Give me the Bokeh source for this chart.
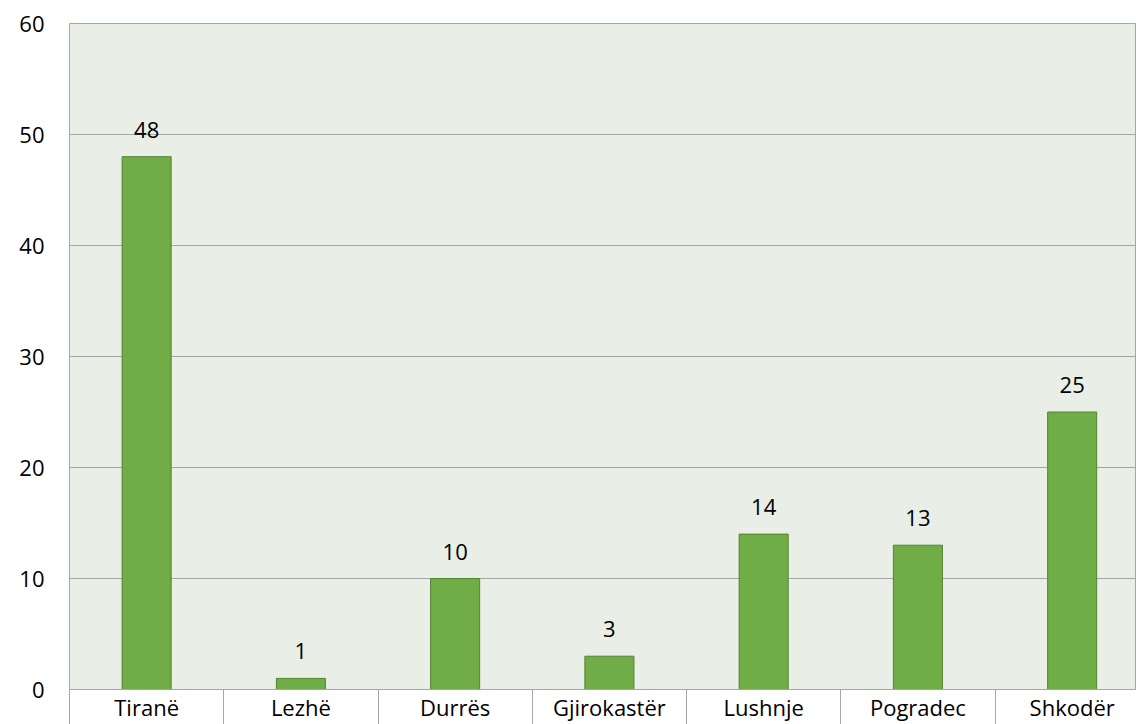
from bokeh.plotting import figure
from bokeh.models import ColumnDataSource, FixedTicker, LabelSet, Range1d
from bokeh.core.properties import value
from bokeh.embed import file_html
from bokeh.resources import INLINE

categories = ["Tiranë", "Lezhë", "Durrës", "Gjirokastër", "Lushnje", "Pogradec", "Shkodër"]
values = [48, 1, 10, 3, 14, 13, 25]
y_ticks = [0, 10, 20, 30, 40, 50, 60]

centers = [i + 0.5 for i in range(len(categories))]
bounds = list(range(len(categories) + 1))

src = ColumnDataSource(dict(x=centers, top=values, label=[str(v) for v in values], cat=categories))

FONT = "Open Sans"
FS = "22px"

p = figure(width=1136, height=724, output_backend="svg", toolbar_location=None,
           x_range=Range1d(0, 6.917), y_range=Range1d(0, 60),
           min_border_left=69, min_border_right=0, min_border_top=23, min_border_bottom=35)

p.background_fill_color = "#E9EEE7"
p.border_fill_color = "white"
p.outline_line_color = "#A6A6A6"
p.outline_line_width = 1

p.vbar(x="x", top="top", width=0.318, source=src, fill_color="#70AD47", line_color="#548235", line_width=1)

labels = LabelSet(x="x", y="top", text="label", source=src, text_align="center",
                  text_baseline="alphabetic", y_offset=19, text_font=value(FONT), text_font_size=FS,
                  text_color="#000000")
p.add_layout(labels)

# x axis
p.xaxis.ticker = FixedTicker(ticks=centers, minor_ticks=bounds)
p.xaxis.major_label_overrides = {c: n for c, n in zip(centers, categories)}
p.xaxis.major_tick_line_color = None
p.xaxis.major_tick_in = 0
p.xaxis.major_tick_out = 0
p.xaxis.minor_tick_in = 0
p.xaxis.minor_tick_out = 36
p.xaxis.minor_tick_line_color = "#A6A6A6"
p.xaxis.axis_line_color = "#A6A6A6"
p.xaxis.major_label_text_font = FONT
p.xaxis.major_label_text_font_size = FS
p.xaxis.major_label_text_color = "#000000"
p.xaxis.major_label_standoff = -34

# y axis
p.yaxis.ticker = FixedTicker(ticks=y_ticks)
p.yaxis.axis_line_color = None
p.yaxis.major_tick_line_color = None
p.yaxis.minor_tick_line_color = None
p.yaxis.major_tick_in = 0
p.yaxis.major_tick_out = 0
p.yaxis.major_label_text_font = FONT
p.yaxis.major_label_text_font_size = FS
p.yaxis.major_label_text_color = "#000000"
p.yaxis.major_label_standoff = 25

p.xgrid.grid_line_color = None
p.ygrid.ticker = FixedTicker(ticks=y_ticks)
p.ygrid.grid_line_color = "#A6A6A6"
p.ygrid.grid_line_width = 1

open("out.html", "w").write(file_html(p, INLINE))
